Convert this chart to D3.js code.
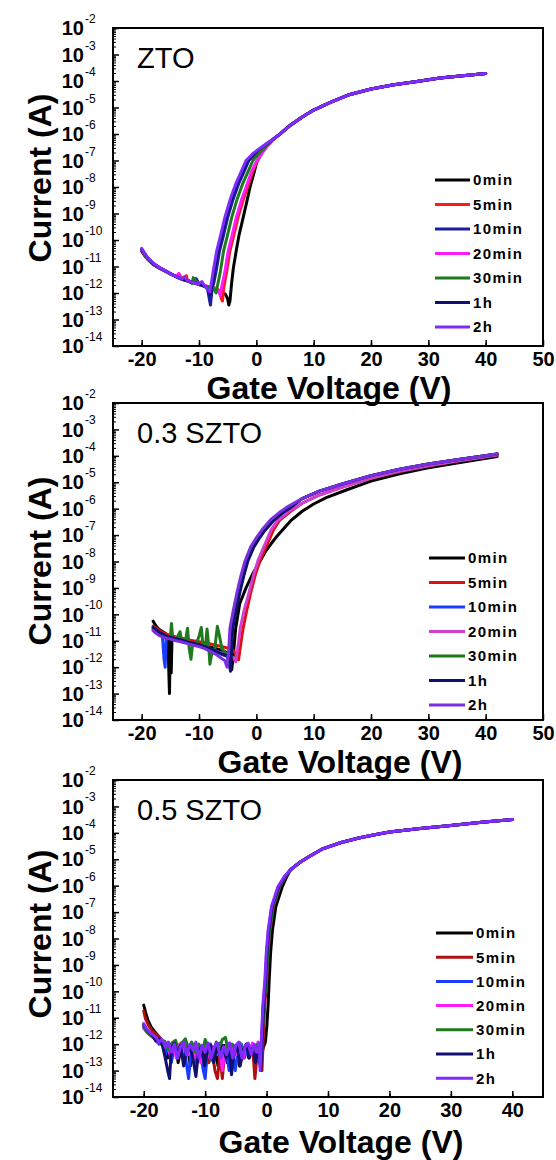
<!DOCTYPE html>
<html>
<head>
<meta charset="utf-8">
<script src="https://cdn.jsdelivr.net/npm/d3@7"></script>
<style>
  html, body { margin: 0; padding: 0; background: #fff; }
  svg { display: block; }
</style>
</head>
<body>
<svg id="chart" width="556" height="1160"></svg>
<script>
// ---------------- data ----------------
const seriesLabels = ["0min", "5min", "10min", "20min", "30min", "1h", "2h"];
const panelNames = ["ZTO", "0.3 SZTO", "0.5 SZTO"];
const xTicksWide = [-20, -10, 0, 10, 20, 30, 40, 50];
const xTicksNarrow = [-20, -10, 0, 10, 20, 30, 40];
const yTickExponents = [-2, -3, -4, -5, -6, -7, -8, -9, -10, -11, -12, -13, -14];

const colorsZTO = ["#000000", "#ff1a1a", "#1c1ca0", "#ff1aff", "#1f7a1f", "#101070", "#7f2bff"];
const colorsSZTO3 = ["#000000", "#e01010", "#1a3cff", "#d040d0", "#1f7a1f", "#101070", "#7a2ee0"];
const colorsSZTO5 = ["#000000", "#b01010", "#1a3cff", "#ff1aff", "#1f7a1f", "#101070", "#7f2bff"];

// ZTO : [gate voltage (V), drain current (A)]
const ztoOn = [[3,6.5e-7],[4,9.5e-7],[6,2.2e-6],[8,4.4e-6],[10,8e-6],[13,1.6e-5],[16,2.95e-5],[20,5.0e-5],[24,7.2e-5],[28,9.5e-5],[32,1.29e-4],[36,1.58e-4],[40,1.9e-4]];
const zto0min = [[-20,3.8e-11],[-19.5,2.6e-11],[-19,1.9e-11],[-18,1.2e-11],[-17,8.8e-12],[-16,6.8e-12],[-15,5.2e-12],[-14,4.1e-12],[-13,3.3e-12],[-12,2.8e-12],[-11,2.4e-12],[-10,2.1e-12],[-9,1.8e-12],[-8,1.5e-12],[-7,1.3e-12],[-6,1.1e-12],[-5.4,9e-13],[-5.0,6e-13],[-4.8,3.5e-13],[-4.6,5e-13],[-4.3,2.5e-12],[-4.0,9e-12],[-3.5,4e-11],[-3.0,1.6e-10],[-2.3,7e-10],[-1.6,3.2e-9],[-1.1,1e-8],[-0.4,3.5e-8],[0.1,9e-8],[1,2.1e-7],[2,3.9e-7]];
const zto5min = [[-20,4.2e-11],[-19.5,2.8e-11],[-19,2e-11],[-18,1.3e-11],[-17,9e-12],[-16,7e-12],[-15,5.4e-12],[-14,4.3e-12],[-13,3.6e-12],[-12.2,4.5e-12],[-12,3e-12],[-11,2.5e-12],[-10,2.2e-12],[-9,1.9e-12],[-8,1.7e-12],[-7,1.5e-12],[-6.4,1.2e-12],[-6.1,6e-13],[-5.9,5e-13],[-5.7,1.5e-12],[-5.2,6e-12],[-4.6,4e-11],[-3.9,1.6e-10],[-3.2,7e-10],[-2.3,3.2e-9],[-1.4,1.2e-8],[-0.6,4e-8],[0.1,9e-8],[1,2e-7],[2,3.8e-7]];
const zto10min = [[-20,4.5e-11],[-19.5,3e-11],[-19,2.1e-11],[-18,1.3e-11],[-17,9.2e-12],[-16,7e-12],[-15,5.4e-12],[-14,4.2e-12],[-13,3.4e-12],[-12,2.9e-12],[-11,2.5e-12],[-10.5,3.5e-12],[-10,2.2e-12],[-9,1.8e-12],[-8.5,1.4e-12],[-8.2,6e-13],[-8.0,3.5e-13],[-7.7,1.5e-12],[-7.4,2.5e-12],[-7.0,7e-12],[-6.4,4e-11],[-5.7,1.6e-10],[-5.0,7e-10],[-4.1,3.2e-9],[-3.1,1.3e-8],[-2.1,4e-8],[-1.3,1e-7],[0,1.8e-7],[1,3e-7],[2,4.4e-7]];
const zto20min = [[-20,4.3e-11],[-19.5,2.9e-11],[-19,2e-11],[-18,1.25e-11],[-17,9e-12],[-16,6.9e-12],[-15,5.3e-12],[-14,4.2e-12],[-13.5,5.5e-12],[-13,3.5e-12],[-12,2.9e-12],[-11,2.5e-12],[-10,2.2e-12],[-9,1.9e-12],[-8,1.6e-12],[-7,1.4e-12],[-6.5,1.2e-12],[-6.3,8e-13],[-6.1,1.5e-12],[-5.5,6e-12],[-4.9,4e-11],[-4.2,1.6e-10],[-3.5,7e-10],[-2.6,3.2e-9],[-1.6,1.3e-8],[-0.8,4e-8],[0,9e-8],[1,1.9e-7],[2,3.7e-7]];
const zto30min = [[-20,4.4e-11],[-19.5,2.9e-11],[-19,2.1e-11],[-18,1.3e-11],[-17,9.2e-12],[-16,7e-12],[-15,5.3e-12],[-14,4.2e-12],[-13,3.4e-12],[-12,2.9e-12],[-11.2,2.3e-12],[-11,3.8e-12],[-10,2.2e-12],[-9,1.8e-12],[-8,1.6e-12],[-7.5,1.5e-12],[-7.0,1e-12],[-6.8,1.8e-12],[-6.3,6e-12],[-5.7,4e-11],[-5.0,1.6e-10],[-4.3,7e-10],[-3.4,3.2e-9],[-2.4,1.3e-8],[-1.4,4e-8],[-0.6,1e-7],[0.5,1.9e-7],[1.3,2.8e-7],[2,4e-7]];
const zto1h = [[-20,4.6e-11],[-19.5,3.1e-11],[-19,2.2e-11],[-18,1.3e-11],[-17,9.3e-12],[-16,7.1e-12],[-15,5.4e-12],[-14,4.2e-12],[-13,3.4e-12],[-12,2.9e-12],[-11,2.5e-12],[-10,2.2e-12],[-9,1.8e-12],[-8.6,1.6e-12],[-8.3,1.3e-12],[-8.0,9e-13],[-7.7,2e-12],[-7.3,7e-12],[-6.7,4e-11],[-6.0,1.6e-10],[-5.3,7e-10],[-4.4,3.2e-9],[-3.4,1.3e-8],[-2.4,4e-8],[-1.6,1e-7],[-0.3,1.9e-7],[1,3.2e-7],[2,4.6e-7]];
const zto2h = [[-20,4.8e-11],[-19.5,3.2e-11],[-19,2.2e-11],[-18,1.35e-11],[-17,9.5e-12],[-16,7.2e-12],[-15,5.3e-12],[-14,4.2e-12],[-13,3.4e-12],[-12.5,4e-12],[-12,2.9e-12],[-11,2.5e-12],[-10,2.2e-12],[-9.5,2.7e-12],[-9,1.8e-12],[-8.5,1.5e-12],[-8.1,1.1e-12],[-7.9,2e-12],[-7.5,7e-12],[-6.9,4e-11],[-6.2,1.6e-10],[-5.5,7e-10],[-4.6,3.2e-9],[-3.6,1.3e-8],[-2.6,4e-8],[-1.8,1e-7],[-0.5,1.9e-7],[1,3.3e-7],[2,4.7e-7]];

// 0.3 SZTO
const sz3OnFast = [[8,2.4e-6],[11,4.6e-6],[15,8.6e-6],[20,1.78e-5],[25,3.1e-5],[30,4.9e-5],[35,7.1e-5],[42,1.18e-4]];
const sz3OnMid = [[8,1.6e-6],[11,3.3e-6],[15,6.6e-6],[20,1.45e-5],[25,2.6e-5],[30,4.2e-5],[35,6.3e-5],[42,1.07e-4]];
const sz30min = [[-18,5.5e-11],[-17.5,3.6e-11],[-17,2.7e-11],[-16,2e-11],[-15.6,1.7e-11],[-15.35,3e-12],[-15.15,1e-13],[-15.0,1.5e-11],[-14.85,6e-13],[-14.7,1.4e-11],[-14,1.3e-11],[-13,1.1e-11],[-12,9.5e-12],[-11,8.5e-12],[-10,7.5e-12],[-9,6.5e-12],[-8,5.8e-12],[-7,5e-12],[-6,4.3e-12],[-5,3.5e-12],[-4.6,1.5e-12],[-4.3,8e-13],[-4.0,3e-12],[-3.6,3e-11],[-2.9,2.5e-10],[-1.8,1e-9],[-0.7,3.2e-9],[0.6,1e-8],[1.6,2.4e-8],[2.6,4.8e-8],[3.6,9e-8],[4.6,1.6e-7],[6,3.5e-7],[8,8e-7],[10,1.5e-6],[12.2,2.6e-6],[15.8,5.2e-6],[20,1.1e-5],[25,2.1e-5],[30,3.55e-5],[35,5.4e-5],[42,9.5e-5]];
const sz35min = [[-18,3.6e-11],[-17,2.5e-11],[-16,1.9e-11],[-15,1.6e-11],[-14,1.4e-11],[-13,1.25e-11],[-12,1.1e-11],[-11,1e-11],[-10,9.2e-12],[-9,8.4e-12],[-8,7.6e-12],[-7,6.8e-12],[-6,6e-12],[-5,5.3e-12],[-4.2,4.6e-12],[-3.5,3e-12],[-3.1,1.9e-12],[-2.7,8e-12],[-2.3,3e-11],[-1.7,1.3e-10],[-1.0,6.3e-10],[-0.2,3e-9],[0.65,1.1e-8],[1.8,4e-8],[3,1.6e-7],[4,3.5e-7],[6,8e-7]].concat(sz3OnMid);
const sz310min = [[-18,3e-11],[-17,2.1e-11],[-16.4,1.7e-11],[-16.1,2e-12],[-15.9,1e-12],[-15.7,1.5e-11],[-15,1.3e-11],[-14,1.15e-11],[-13,1e-11],[-12,8.6e-12],[-11,7.5e-12],[-10,6.6e-12],[-9,5.6e-12],[-8,4.6e-12],[-7,3.8e-12],[-6,3e-12],[-5,2.5e-12],[-4.7,1.5e-12],[-4.5,5e-12],[-4.3,3e-11],[-3.7,1.5e-10],[-3.1,6.3e-10],[-2.4,2.8e-9],[-1.7,1e-8],[-0.7,3.4e-8],[0.3,7.7e-8],[1.3,1.55e-7],[2.8,3.6e-7],[4.3,6.9e-7],[5.8,1.15e-6]].concat(sz3OnFast);
const sz320min = [[-18,2.8e-11],[-17,2e-11],[-16,1.55e-11],[-15,1.3e-11],[-14,1.15e-11],[-13,1e-11],[-12,8.8e-12],[-11,7.8e-12],[-10,6.8e-12],[-9,5.8e-12],[-8,4.8e-12],[-7,4e-12],[-6,3.3e-12],[-5,2.8e-12],[-4,2.3e-12],[-3.6,1.6e-12],[-3.2,6e-12],[-2.8,3e-11],[-2.1,1.5e-10],[-1.3,6.3e-10],[-0.5,3e-9],[0.3,1.1e-8],[1.4,4e-8],[2.6,1.6e-7],[3.7,3.5e-7],[5.7,8e-7]].concat(sz3OnMid);
const sz330min = [[-18,2.6e-11],[-17,2e-11],[-16,1.6e-11],[-15,1.3e-11],[-14.8,4.5e-11],[-14.6,1.3e-11],[-14,1.1e-11],[-13.3,2.2e-11],[-13,9e-12],[-12.3,1.2e-11],[-12,3e-11],[-11.7,5e-12],[-11.4,2e-12],[-11.1,8e-12],[-10.5,7e-12],[-10,1.5e-11],[-9.6,3.2e-11],[-9.3,6e-12],[-8.9,5e-12],[-8.6,2.8e-11],[-8.3,6e-12],[-8.1,1.3e-12],[-7.8,3e-12],[-7.3,4e-12],[-6.8,3.5e-11],[-6.5,1.8e-11],[-6,5e-12],[-5.4,3.5e-12],[-4.8,2.5e-12],[-4.5,5e-12],[-4.3,3e-11],[-3.7,1.5e-10],[-3.1,6.3e-10],[-2.4,2.8e-9],[-1.7,1e-8],[-0.7,3.4e-8],[0.3,7.7e-8],[1.3,1.55e-7],[2.8,3.6e-7],[4.3,6.9e-7],[5.8,1.15e-6]].concat(sz3OnFast);
const sz31h = [[-18,3.2e-11],[-17,2.2e-11],[-16,1.6e-11],[-15,1.35e-11],[-14,1.2e-11],[-13,1.05e-11],[-12,9e-12],[-11,8e-12],[-10,7e-12],[-9,6e-12],[-8,5e-12],[-7,4e-12],[-6,3.2e-12],[-5,2.6e-12],[-4.7,1.2e-12],[-4.5,7e-13],[-4.3,5e-12],[-4.1,3e-11],[-3.5,1.5e-10],[-2.9,6.3e-10],[-2.2,2.8e-9],[-1.5,1e-8],[-0.5,3.3e-8],[0.5,7.5e-8],[1.5,1.5e-7],[3,3.5e-7],[4.5,6.7e-7],[6,1.1e-6]].concat(sz3OnFast);
const sz32h = [[-18,2.4e-11],[-17.5,1.9e-11],[-17,1.6e-11],[-16,1.3e-11],[-15,1.15e-11],[-14,1e-11],[-13,9e-12],[-12,7.8e-12],[-11,6.8e-12],[-10,6e-12],[-9,5e-12],[-8,4e-12],[-7,3e-12],[-6.5,2.5e-12],[-6,2.1e-12],[-5.5,1.8e-12],[-5.1,1e-12],[-4.8,5e-12],[-4.6,3e-11],[-4.0,1.5e-10],[-3.4,6.3e-10],[-2.7,2.8e-9],[-2,1e-8],[-1,3.5e-8],[0,7.9e-8],[1,1.58e-7],[2.5,3.8e-7],[4,7.1e-7],[5.5,1.2e-6]].concat(sz3OnFast);

// 0.5 SZTO
const sz5On = [[3.9,4e-6],[5.2,7e-6],[7,1.3e-5],[9,2.4e-5],[12,4.2e-5],[15,6.4e-5],[17.4,8.3e-5],[20,1.07e-4],[25,1.45e-4],[30,1.9e-4],[35,2.5e-4],[40,3.2e-4]];
const sz50min = [[-20,3e-11],[-19.7,1.6e-11],[-19.3,8e-12],[-18.8,4.5e-12],[-18.2,3e-12],[-17.6,2e-12],[-17.1,1.4e-12],[-16.6,9e-13],[-16.1,3e-13],[-15.7,8e-13],[-15.2,5e-13],[-14.8,1e-12],[-14.4,2e-13],[-13.9,7e-13],[-13.4,4e-13],[-12.9,9e-13],[-12.4,1.5e-13],[-11.9,6e-13],[-11.4,3e-13],[-10.9,8e-13],[-10.4,2e-13],[-9.9,6e-13],[-9.4,1e-12],[-8.9,2.5e-13],[-8.4,7e-13],[-7.9,1.5e-13],[-7.4,5e-13],[-6.9,9e-13],[-6.4,2e-13],[-5.9,6e-13],[-5.4,3e-13],[-4.9,8e-13],[-4.4,1.5e-13],[-3.9,5e-13],[-3.4,9e-13],[-2.9,3e-13],[-2.4,7e-13],[-1.9,2e-13],[-1.4,6e-13],[-0.9,3e-13],[-0.5,8e-13],[-0.2,1.2e-12],[0.05,5e-12],[0.25,3e-11],[0.42,2.5e-10],[0.65,2.8e-9],[0.95,2e-8],[1.5,1.6e-7],[2.55,9.1e-7],[3.3,2.2e-6]].concat(sz5On);
const sz55min = [[-20,1.8e-11],[-19.7,9e-12],[-19.2,5e-12],[-18.6,3.2e-12],[-18,2.4e-12],[-17.4,1.8e-12],[-16.9,1.3e-12],[-16.4,7e-13],[-15.9,1.1e-12],[-15.4,4e-13],[-14.9,9e-13],[-14.4,5e-13],[-13.9,1.1e-12],[-13.4,3e-13],[-12.9,8e-13],[-12.4,4e-13],[-11.9,1e-12],[-11.4,2e-13],[-10.9,7e-13],[-10.4,4e-13],[-9.9,9e-13],[-9.4,2e-13],[-8.9,6e-13],[-8.4,1e-13],[-8.0,5e-14],[-7.6,4e-13],[-7.2,5e-14],[-6.8,6e-13],[-6.3,1e-12],[-5.8,2e-13],[-5.3,7e-13],[-4.8,4e-13],[-4.3,1e-12],[-3.8,3e-13],[-3.3,8e-13],[-2.8,4e-13],[-2.3,1e-12],[-1.9,5e-14],[-1.5,5e-13],[-1.1,2e-13],[-0.75,1e-13],[-0.55,1.5e-12],[-0.3,3e-11],[0.02,2.5e-10],[0.25,2.8e-9],[0.55,2e-8],[1.1,1.6e-7],[2.15,9.1e-7],[3.1,2.2e-6]].concat(sz5On);
const sz510min = [[-20,5e-12],[-19.5,3.3e-12],[-19,2.5e-12],[-18.5,1.9e-12],[-18,1.4e-12],[-17.5,1e-12],[-17,1.2e-12],[-16.5,4e-13],[-16,8e-13],[-15.5,2e-13],[-15,9e-13],[-14.5,3e-13],[-14,7e-13],[-13.5,1.1e-12],[-13,1.5e-13],[-12.7,5e-14],[-12.3,5e-13],[-11.8,9e-13],[-11.3,2e-13],[-10.8,6e-13],[-10.3,1e-13],[-10,5e-14],[-9.6,6e-13],[-9.1,1e-12],[-8.6,3e-13],[-8.1,8e-13],[-7.6,1.1e-12],[-7.1,2e-13],[-6.6,7e-13],[-6.1,1e-13],[-5.6,6e-13],[-5.1,1e-13],[-4.6,7e-13],[-4.1,1e-12],[-3.6,3e-13],[-3.1,8e-13],[-2.6,4e-13],[-2.1,9e-13],[-1.6,3e-13],[-1.2,7e-13],[-0.95,2e-13],[-0.8,1e-12],[-0.5,3e-11],[-0.08,2.5e-10],[0.15,2.8e-9],[0.45,2e-8],[1.0,1.6e-7],[2.05,9.1e-7],[3.0,2.2e-6]].concat(sz5On);
const sz520min = [[-20,4e-12],[-19.5,2.8e-12],[-19,2.2e-12],[-18.4,1.7e-12],[-17.8,1.2e-12],[-17.2,1.5e-12],[-16.7,7e-13],[-16.2,1.1e-12],[-15.7,4e-13],[-15.2,9e-13],[-14.7,3e-13],[-14.2,1e-12],[-13.7,5e-13],[-13.2,1.2e-12],[-12.7,4e-13],[-12.2,1e-12],[-11.7,3e-13],[-11.2,9e-13],[-10.7,2e-13],[-10.2,7e-13],[-9.7,1.1e-12],[-9.2,3e-13],[-8.7,8e-13],[-8.2,4e-13],[-7.7,1e-12],[-7.2,1e-13],[-6.8,6e-13],[-6.3,1.1e-12],[-5.8,3e-13],[-5.3,9e-13],[-4.8,4e-13],[-4.3,1.1e-12],[-3.8,3e-13],[-3.3,1e-12],[-2.8,5e-13],[-2.3,1.1e-12],[-1.8,4e-13],[-1.4,1.2e-12],[-1.0,2e-13],[-0.8,1.5e-12],[-0.55,3e-11],[-0.23,2.5e-10],[0,2.8e-9],[0.3,2e-8],[0.85,1.6e-7],[1.9,9.1e-7],[2.95,2.2e-6]].concat(sz5On);
const sz530min = [[-20,4.5e-12],[-19.5,3e-12],[-19,2.3e-12],[-18.4,1.8e-12],[-17.8,1.4e-12],[-17.2,1e-12],[-16.6,1.3e-12],[-16,6e-13],[-15.4,1.1e-12],[-14.8,1.4e-12],[-14.3,5e-13],[-13.8,1.1e-12],[-13.2,1.6e-12],[-12.7,6e-13],[-12.2,1.2e-12],[-11.6,5e-13],[-11,1e-12],[-10.5,4e-13],[-10,1.5e-12],[-9.5,8e-13],[-9,2.5e-13],[-8.6,5e-13],[-8.2,1.2e-12],[-7.7,7e-13],[-7.2,1.5e-12],[-6.7,1.8e-12],[-6.2,5e-13],[-5.6,1e-12],[-5.0,6e-13],[-4.4,1.1e-12],[-3.8,5e-13],[-3.2,9e-13],[-2.6,4e-13],[-2,8e-13],[-1.4,1e-12],[-1.0,4e-13],[-0.75,1e-12],[-0.45,3e-11],[-0.03,2.5e-10],[0.2,2.8e-9],[0.5,2e-8],[1.05,1.6e-7],[2.1,9.1e-7],[3.05,2.2e-6]].concat(sz5On);
const sz51h = [[-20,5.5e-12],[-19.5,3.6e-12],[-19,2.7e-12],[-18.5,2e-12],[-18,1.3e-12],[-17.5,1.6e-12],[-17,1e-12],[-16.5,3e-13],[-16.1,1e-13],[-15.8,5e-14],[-15.5,7e-13],[-15,1.1e-12],[-14.5,4e-13],[-14,9e-13],[-13.5,1.5e-13],[-13,6e-13],[-12.5,9e-13],[-12,3e-13],[-11.5,6e-14],[-11.1,5e-13],[-10.6,8e-13],[-10.1,1.5e-13],[-9.6,6e-13],[-9.1,9e-13],[-8.6,2e-13],[-8.1,7e-13],[-7.6,4e-13],[-7.1,9e-13],[-6.6,3e-13],[-6.1,8e-13],[-5.7,7e-14],[-5.3,5e-13],[-4.8,9e-13],[-4.3,1.5e-13],[-3.8,6e-13],[-3.3,1e-12],[-2.8,3e-13],[-2.3,7e-13],[-1.8,2e-13],[-1.4,8e-13],[-1.15,3e-13],[-0.95,1e-13],[-0.75,1.5e-12],[-0.5,3e-11],[-0.18,2.5e-10],[0.05,2.8e-9],[0.35,2e-8],[0.9,1.6e-7],[1.95,9.1e-7],[3.0,2.2e-6]].concat(sz5On);
const sz52h = [[-20,6e-12],[-19.6,4e-12],[-19.1,3e-12],[-18.6,2.3e-12],[-18,1.8e-12],[-17.5,1.2e-12],[-17,1.5e-12],[-16.5,8e-13],[-16,1.2e-12],[-15.5,5e-13],[-15,1e-12],[-14.5,3e-13],[-14,8e-13],[-13.5,1.2e-12],[-13,4e-13],[-12.5,1e-12],[-12,6e-13],[-11.5,1.2e-12],[-11,3e-13],[-10.5,9e-13],[-10,5e-13],[-9.5,1.1e-12],[-9,3e-13],[-8.5,8e-13],[-8,1.1e-12],[-7.5,3e-13],[-7,8e-13],[-6.5,4e-13],[-6,1.1e-12],[-5.5,3e-13],[-5,9e-13],[-4.5,1.2e-12],[-4,3e-13],[-3.5,8e-13],[-3,1.1e-12],[-2.5,4e-13],[-2,1e-12],[-1.5,5e-13],[-1.2,1.1e-12],[-1.05,1e-13],[-0.85,1.5e-12],[-0.6,3e-11],[-0.28,2.5e-10],[-0.05,2.8e-9],[0.25,2e-8],[0.8,1.6e-7],[1.85,9.1e-7],[2.9,2.2e-6]].concat(sz5On);

// ---------------- layout ----------------
const FONT = "'Liberation Sans', Arial, Helvetica, sans-serif";
const plotLeft = 113, plotRight = 543;

const panels = [
  {
    name: panelNames[0], colors: colorsZTO, xDomain: [-25, 50], xTicks: xTicksWide,
    series: [zto0min, zto5min, zto10min, zto20min, zto30min, zto1h, zto2h].map(s => s.concat(ztoOn)),
    top: 28, bottom: 346, nameY: 68, titleX: 329, titleY: 399, yTitleY: 178,
    legend: { x1: 435, x2: 470, y0: 180, dy: 24.5 }
  },
  {
    name: panelNames[1], colors: colorsSZTO3, xDomain: [-25, 50], xTicks: xTicksWide,
    series: [sz30min, sz35min, sz310min, sz320min, sz330min, sz31h, sz32h],
    top: 403, bottom: 720, nameY: 443, titleX: 340, titleY: 773, yTitleY: 561,
    legend: { x1: 429, x2: 465, y0: 558, dy: 24.5 }
  },
  {
    name: panelNames[2], colors: colorsSZTO5, xDomain: [-25, 45], xTicks: xTicksNarrow,
    series: [sz50min, sz55min, sz510min, sz520min, sz530min, sz51h, sz52h],
    top: 780, bottom: 1097, nameY: 820, titleX: 341, titleY: 1153, yTitleY: 934,
    legend: { x1: 436, x2: 473, y0: 933, dy: 24.2 }
  }
];

const svg = d3.select("#chart");

panels.forEach((p, pi) => {
  const x = d3.scaleLinear().domain(p.xDomain).range([plotLeft, plotRight]);
  const y = d3.scaleLog().domain([1e-14, 1e-2]).range([p.bottom, p.top]);
  const g = svg.append("g");

  // transfer curves
  const line = d3.line().x(d => x(d[0])).y(d => y(d[1]));
  const clipId = "clip" + pi;
  g.append("clipPath").attr("id", clipId)
    .append("rect").attr("x", plotLeft).attr("y", p.top)
    .attr("width", plotRight - plotLeft).attr("height", p.bottom - p.top);
  const curves = g.append("g").attr("clip-path", `url(#${clipId})`);
  p.series.forEach((s, i) => {
    curves.append("path")
      .attr("d", line(s))
      .attr("fill", "none")
      .attr("stroke", p.colors[i])
      .attr("stroke-width", 3)
      .attr("stroke-linejoin", "round")
      .attr("stroke-linecap", "round");
  });

  // bottom axis: major ticks with labels, minor ticks every 5 V
  const xMinor = d3.range(p.xDomain[0] + 5, p.xDomain[1], 10);
  g.append("g").attr("transform", `translate(0,${p.bottom})`)
    .call(d3.axisBottom(x).tickValues(xMinor).tickSize(-3).tickFormat(""))
    .call(a => a.select(".domain").remove())
    .call(a => a.selectAll("line").attr("stroke", "#000").attr("stroke-width", 1.5));
  g.append("g").attr("transform", `translate(0,${p.bottom})`)
    .call(d3.axisBottom(x).tickValues(p.xTicks).tickSize(-6).tickPadding(6).tickFormat(d => String(d)))
    .call(a => a.select(".domain").remove())
    .call(a => a.selectAll("line").attr("stroke", "#000").attr("stroke-width", 1.5))
    .call(a => a.selectAll("text")
      .attr("fill", "#000").attr("font-family", FONT)
      .attr("font-size", 20).attr("font-weight", "bold"));

  // left axis: decade ticks and minor ticks
  const decades = yTickExponents.map(e => Math.pow(10, e));
  const yMinor = [];
  yTickExponents.slice(1).forEach(e => {
    for (let m = 2; m <= 9; m++) yMinor.push(m * Math.pow(10, e));
  });
  g.append("g").attr("transform", `translate(${plotLeft},0)`)
    .call(d3.axisLeft(y).tickValues(yMinor).tickSize(-3).tickFormat(""))
    .call(a => a.select(".domain").remove())
    .call(a => a.selectAll("line").attr("stroke", "#000").attr("stroke-width", 1));
  g.append("g").attr("transform", `translate(${plotLeft},0)`)
    .call(d3.axisLeft(y).tickValues(decades).tickSize(-6).tickFormat(""))
    .call(a => a.select(".domain").remove())
    .call(a => a.selectAll("line").attr("stroke", "#000").attr("stroke-width", 1.5));

  // y tick labels as 10 with superscript exponent
  const yl = g.append("g");
  yTickExponents.forEach(e => {
    const ty = y(Math.pow(10, e));
    yl.append("text").attr("x", 84).attr("y", ty).attr("dy", "0.36em")
      .attr("text-anchor", "end").attr("font-family", FONT)
      .attr("font-size", 20).attr("font-weight", "bold").text("10");
    yl.append("text").attr("x", 85).attr("y", ty - 5)
      .attr("text-anchor", "start").attr("font-family", FONT)
      .attr("font-size", 12).text(String(e));
  });

  // frame
  g.append("rect").attr("x", plotLeft).attr("y", p.top)
    .attr("width", plotRight - plotLeft).attr("height", p.bottom - p.top)
    .attr("fill", "none").attr("stroke", "#000").attr("stroke-width", 2);

  // sample name
  g.append("text").attr("x", 137).attr("y", p.nameY)
    .attr("font-family", FONT).attr("font-size", 29).text(p.name);

  // axis titles
  g.append("text").attr("x", p.titleX).attr("y", p.titleY)
    .attr("text-anchor", "middle").attr("font-family", FONT)
    .attr("font-size", 32).attr("font-weight", "bold").text("Gate Voltage (V)");
  g.append("text")
    .attr("transform", `translate(51,${p.yTitleY}) rotate(-90)`)
    .attr("text-anchor", "middle").attr("font-family", FONT)
    .attr("font-size", 32).attr("font-weight", "bold").text("Current (A)");

  // legend
  const lg = g.append("g");
  seriesLabels.forEach((lab, i) => {
    const ly = p.legend.y0 + i * p.legend.dy;
    lg.append("line").attr("x1", p.legend.x1).attr("x2", p.legend.x2)
      .attr("y1", ly).attr("y2", ly)
      .attr("stroke", p.colors[i]).attr("stroke-width", 3);
    lg.append("text").attr("x", p.legend.x2 + 3).attr("y", ly).attr("dy", "0.36em")
      .attr("font-family", FONT).attr("font-size", 15).attr("font-weight", "bold")
      .attr("letter-spacing", "1.4px").text(lab);
  });
});
</script>
</body>
</html>
